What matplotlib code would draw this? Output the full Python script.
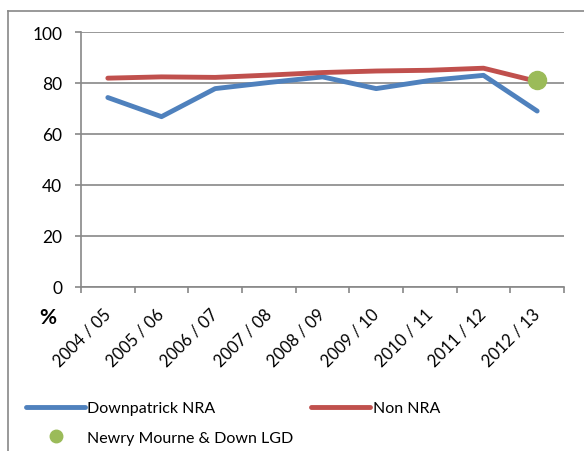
import matplotlib.pyplot as plt
from matplotlib.lines import Line2D
import numpy as np

plt.rcParams['font.family'] = ['Lato', 'DejaVu Sans']

years = ['2004 / 05', '2005 / 06', '2006 / 07', '2007 / 08', '2008 / 09',
         '2009 / 10', '2010 / 11', '2011 / 12', '2012 / 13']
downpatrick = [74.3, 66.8, 77.8, 80.2, 82.4, 77.8, 81.0, 83.0, 69.0]
non_nra = [81.9, 82.4, 82.2, 83.1, 84.1, 84.7, 85.0, 85.8, 80.6]
lgd_value = 81.0  # 2012 / 13 only

W, H = 584, 452
fig = plt.figure(figsize=(W / 100, H / 100), dpi=100)
ax = fig.add_axes([81 / W, 1 - 288 / H, (564 - 81) / W, (288 - 33) / H])

x = np.arange(len(years))
blue = '#4F81BD'
red = '#C0504D'
green = '#9BBB59'
grey = '#888888'

ax.plot(x, downpatrick, color=blue, lw=3.5, solid_capstyle='round', solid_joinstyle='round', zorder=3)
ax.plot(x, non_nra, color=red, lw=3.5, solid_capstyle='round', solid_joinstyle='round', zorder=3)
ax.plot([x[-1]], [lgd_value], 'o', color=green, ms=13, zorder=4)

ax.set_xlim(-0.5, len(years) - 0.5)
ax.set_ylim(0, 100)
ax.set_yticks(np.arange(0, 101, 20))
ax.yaxis.grid(True, color=grey, lw=1.2)
ax.set_axisbelow(True)

# category labels at centres, tick marks at boundaries
ax.set_xticks(x)
ax.set_xticklabels(years, rotation=45, ha='right', va='center', rotation_mode='anchor', fontsize=12)
ax.set_xticks(np.arange(-0.5, len(years)), minor=True)
ax.tick_params(axis='x', which='major', length=0, pad=17)
ax.tick_params(axis='x', which='minor', length=4, color=grey, width=1.2, direction='out')
ax.tick_params(axis='y', length=4.5, color=grey, width=1.2, pad=9, labelsize=12.5)

for s in ['top', 'right']:
    ax.spines[s].set_visible(False)
for s in ['left', 'bottom']:
    ax.spines[s].set_color(grey)
    ax.spines[s].set_linewidth(1.2)

fig.text(48 / W, 1 - 318 / H, '%', fontsize=15, fontweight='bold', ha='center', va='center')

# outer chart border
fig.add_artist(Line2D([8 / W, 8 / W], [0, 1 - 12 / H], color=grey, lw=1.2, transform=fig.transFigure))
fig.add_artist(Line2D([8 / W, 1], [1 - 12 / H, 1 - 12 / H], color=grey, lw=1.2, transform=fig.transFigure))

handles = [
    Line2D([], [], color=blue, lw=3.5, solid_capstyle='round'),
    Line2D([], [], color=green, marker='o', ls='none', ms=9),
    Line2D([], [], color=red, lw=3.5, solid_capstyle='round'),
]
labels = ['Downpatrick NRA', 'Newry Mourne & Down LGD', 'Non NRA']
fig.legend(handles, labels, ncol=2, loc='upper left', bbox_to_anchor=(18 / W, 1 - 394 / H),
           frameon=False, fontsize=11.5, handlelength=3.7, handletextpad=0.15,
           columnspacing=1.1, labelspacing=0.95, borderpad=0)

fig.savefig('out.png', dpi=100)
